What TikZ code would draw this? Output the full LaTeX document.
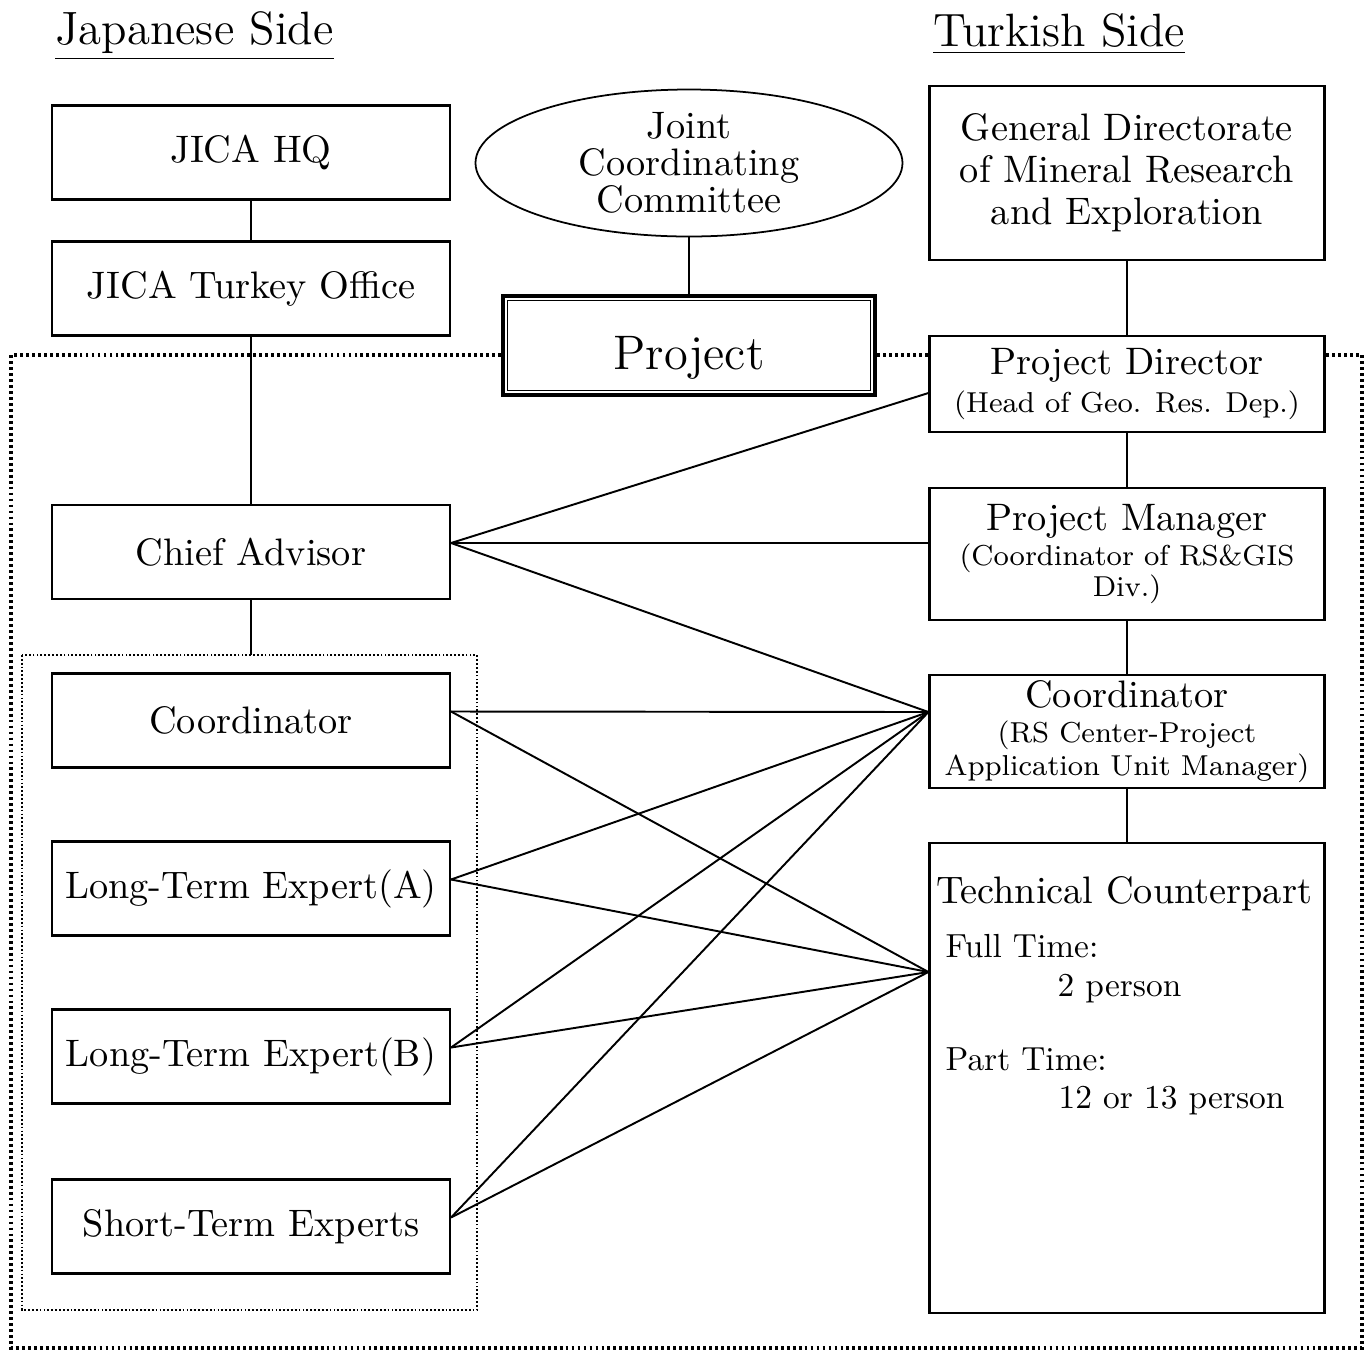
\documentclass[tikz,border=0pt]{standalone}
\usetikzlibrary{shapes.geometric}

\newcommand{\subtxt}{\fontsize{8.2}{9}\selectfont}
\newcommand{\notetxt}{\fontsize{9.5}{11}\selectfont}

\begin{document}
\begin{tikzpicture}[
    txt/.style={font=\fontsize{10.9}{10}\selectfont},
    box/.style={txt, draw, line width=0.6pt, minimum width=3.98cm, minimum height=0.94cm, inner sep=1pt, align=center},
    rbox/.style={box, minimum width=3.95cm},
    link/.style={line width=0.55pt},
    outerdots/.style={line width=0.9pt, dash pattern=on 0.8pt off 0.9pt},
    innerdots/.style={line width=0.5pt, dash pattern=on 0.5pt off 0.6pt},
    note/.style={anchor=base west, inner sep=0pt, font=\notetxt}
]
    \useasboundingbox (0,0) rectangle (13.7,-13.5);

    % Headings
    \node[font=\fontsize{13.3}{15}\selectfont] (jside) at (1.945,-0.36) {\underline{Japanese Side}};
    \node[font=\fontsize{13.3}{15}\selectfont] (tside) at (10.59,-0.34) {\underline{Turkish Side}};

    % Japanese side
    \node[box] (hq) at (2.51,-1.525) {JICA HQ};
    \node[box] (office) at (2.51,-2.885) {JICA Turkey Office};
    \node[box] (chief) at (2.51,-5.52) {Chief Advisor};
    \node[box] (coordL) at (2.51,-7.205) {Coordinator};
    \node[box] (expA) at (2.51,-8.885) {Long-Term Expert(A)};
    \node[box] (expB) at (2.51,-10.565) {Long-Term Expert(B)};
    \node[box] (expS) at (2.51,-12.265) {Short-Term Experts};

    % Committee and project
    \node[txt, draw, ellipse, line width=0.5pt, minimum width=4.27cm, minimum height=1.47cm, inner sep=0pt, align=center] (jcc) at (6.89,-1.63) {Joint\\[0.6pt]Coordinating\\[0.6pt]Committee};
    \node[draw, line width=1.3pt, minimum width=3.72cm, minimum height=0.99cm, text height=13.4pt, text depth=0pt, font=\fontsize{13.8}{16}\selectfont] (proj) at (6.89,-3.455) {Project};
    \draw[line width=0.4pt] ([shift={(0.07,-0.07)}]proj.north west) rectangle ([shift={(-0.07,0.07)}]proj.south east);

    % Turkish side
    \node[rbox, minimum height=1.74cm] (gdmre) at (11.27,-1.73) {General Directorate\\[2pt]of Mineral Research\\[2pt]and Exploration};
    \node[rbox, minimum height=0.96cm] (pdir) at (11.27,-3.84) {Project Director\\[1pt]{\subtxt (Head of Geo. Res. Dep.)}};
    \node[rbox, minimum height=1.32cm] (pman) at (11.27,-5.54) {Project Manager\\[0pt]{\subtxt (Coordinator of RS\&GIS}\\[-1.2pt]{\subtxt Div.)}};
    \node[rbox, minimum height=1.13cm] (coordR) at (11.27,-7.315) {Coordinator\\[0pt]{\subtxt (RS Center-Project}\\[-0.6pt]{\subtxt Application Unit Manager)}};
    \node[rbox, minimum height=4.70cm] (tcp) at (11.27,-10.78) {};

    % Technical counterpart text
    \node[txt, anchor=base, inner sep=0pt] (tctitle) at (11.24,-9.03) {Technical Counterpart};
    \node[note] (full) at (9.45,-9.57) {Full Time:};
    \node[note] (fullN) at (10.57,-9.96) {2 person};
    \node[note] (part) at (9.45,-10.70) {Part Time:};
    \node[note] (partN) at (10.58,-11.08) {12 or 13 person};

    % Dotted frames
    \coordinate (dotY) at (0,-3.55);
    \draw[outerdots] (proj.west |- dotY) -- (0.11,-3.55) -- (0.11,-13.48) -- (13.62,-13.48) -- (13.62,-3.55) -- (pdir.east |- dotY);
    \draw[outerdots] (proj.east |- dotY) -- (pdir.west |- dotY);
    \draw[innerdots] (0.22,-6.55) rectangle (4.77,-13.10);
    \coordinate (team) at (2.51,-6.55);

    % Vertical links
    \draw[link] (hq) -- (office);
    \draw[link] (office) -- (chief);
    \draw[link] (chief) -- (team);
    \draw[link] (jcc) -- (proj);
    \draw[link] (gdmre) -- (pdir);
    \draw[link] (pdir) -- (pman);
    \draw[link] (pman) -- (coordR);
    \draw[link] (coordR) -- (tcp);

    % Cross links
    \coordinate (chiefOut) at ([yshift=0.09cm]chief.east);
    \coordinate (coordIn) at ([yshift=0.195cm]coordR.west);
    \coordinate (tcpIn) at ([yshift=1.06cm]tcp.west);
    \draw[link] (chiefOut) -- ([yshift=-0.09cm]pdir.west);
    \draw[link] (chiefOut) -- (pman.west |- chiefOut);
    \draw[link] (chiefOut) -- (coordIn);
    \draw[link] ([yshift=0.09cm]coordL.east) -- (coordIn);
    \draw[link] ([yshift=0.09cm]coordL.east) -- (tcpIn);
    \draw[link] ([yshift=0.09cm]expA.east) -- (coordIn);
    \draw[link] ([yshift=0.09cm]expA.east) -- (tcpIn);
    \draw[link] ([yshift=0.09cm]expB.east) -- (coordIn);
    \draw[link] ([yshift=0.09cm]expB.east) -- (tcpIn);
    \draw[link] ([yshift=0.09cm]expS.east) -- (coordIn);
    \draw[link] ([yshift=0.09cm]expS.east) -- (tcpIn);
\end{tikzpicture}
\end{document}
